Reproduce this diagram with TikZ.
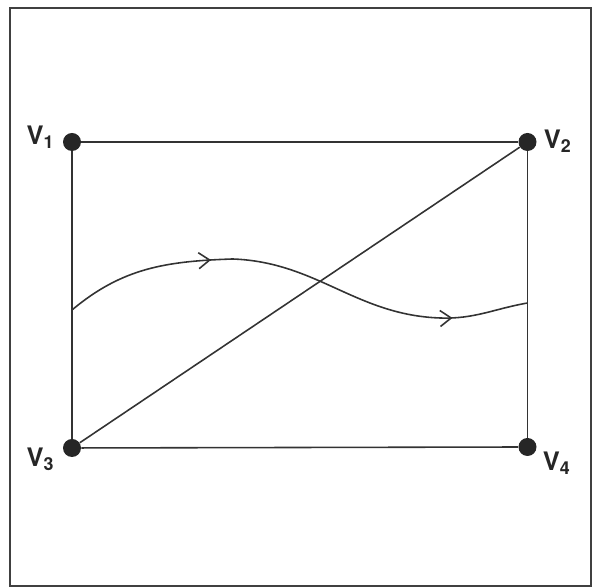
\documentclass[tikz,border=0pt]{standalone}
\usepackage{fontspec}
\setsansfont{TeX Gyre Heros}
\usetikzlibrary{positioning}
\usetikzlibrary{arrows.meta}
\usetikzlibrary{decorations.markings}

\tikzset{
  vertex/.style = {circle, fill = black!85, inner sep = 0pt, minimum size = 0.36cm},
  vlabel/.style = {font = \sffamily\bfseries\fontsize{14.5}{16}\selectfont, text = black!85, inner sep = 1pt},
  edge/.style = {line width = 0.9pt, black!80},
  flow/.style = {line width = 0.9pt, black!80,
    decoration = {markings,
      mark = at position 0.315 with {\arrow{Straight Barb[length=2.2mm, width=3.2mm]}},
      mark = at position 0.84 with {\arrow{Straight Barb[length=2.2mm, width=3.2mm]}}},
    postaction = {decorate}}
}

\begin{document}
\begin{tikzpicture}
        \useasboundingbox (0,0) rectangle (11.88,11.76);
        \draw[line width = 1.4pt, black!75] (0.2,0.04) rectangle (11.82,11.6);

        \node[vertex] (v1) at (1.44,8.92) {};
        \node[vertex] (v2) at (10.55,8.92) {};
        \node[vertex] (v3) at (1.44,2.80) {};
        \node[vertex] (v4) at (10.55,2.82) {};

        \node[vlabel, left = 0.12cm of v1, yshift = 0.1cm] (l1) {V\textsubscript{1}};
        \node[vlabel, right = 0.1cm of v2, yshift = 0.02cm] (l2) {V\textsubscript{2}};
        \node[vlabel, left = 0.12cm of v3, yshift = -0.22cm] (l3) {V\textsubscript{3}};
        \node[vlabel, right = 0.08cm of v4, yshift = -0.32cm] (l4) {V\textsubscript{4}};

        \draw[edge] (v1) -- (v2);
        \draw[edge] (v3) -- (v4);
        \draw[edge] (v1) -- (v3);
        \draw[edge] (v2) -- (v4);
        \draw[edge] (v3) -- (v2);

        % the flow line across the rectangle
        \coordinate (fin) at (1.44,5.56);
        \coordinate (fout) at (10.55,5.70);
        \draw[flow] (fin) to[out = 40, in = 182] (4.65,6.58)
                    to[out = -2, in = 178] (8.8,5.40)
                    to[out = -2, in = 190] (fout);
\end{tikzpicture}
\end{document}
